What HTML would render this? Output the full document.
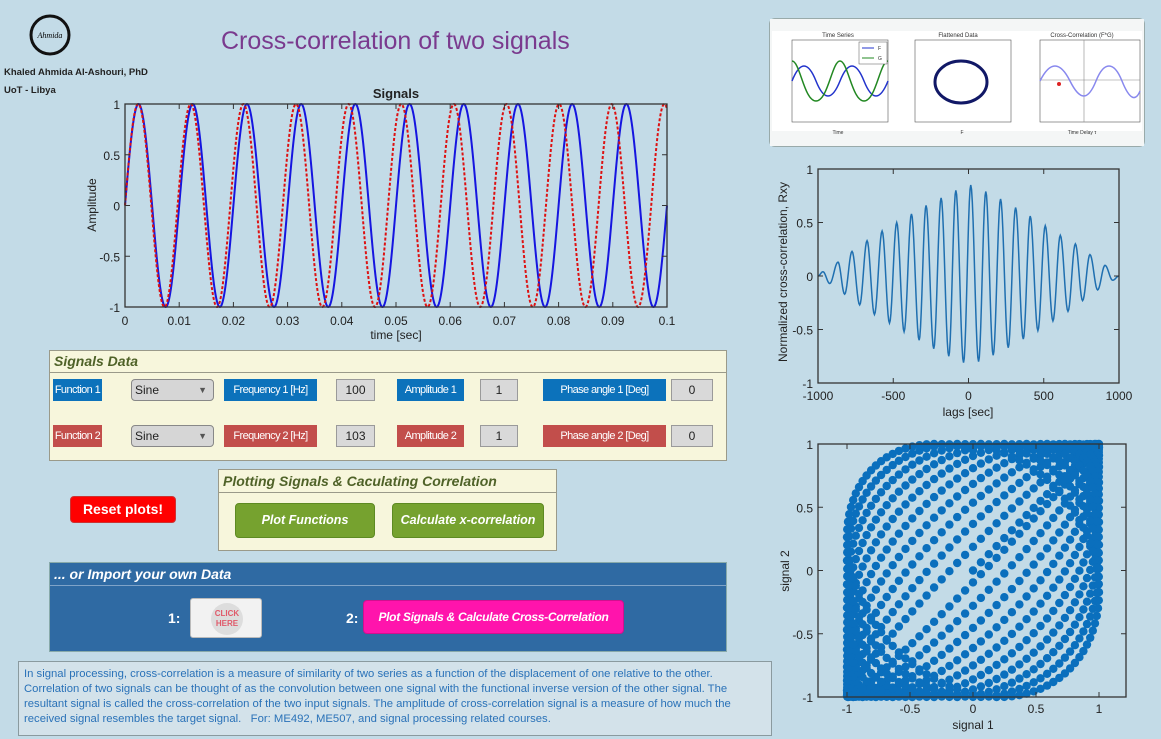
<!DOCTYPE html>
<html><head><meta charset="utf-8">
<style>
*{box-sizing:border-box;margin:0;padding:0}
body{width:1161px;height:739px;background:#c3dbe7;position:relative;overflow:hidden;font-family:"Liberation Sans",sans-serif}
.abs{position:absolute}
.lbl{position:absolute;height:22px;line-height:22px;color:#fff;font-size:11px;text-align:center;white-space:nowrap;overflow:visible;letter-spacing:-0.6px}
.b{background:#0c72bb}.r{background:#c24e4b}
.inp{position:absolute;height:22px;line-height:20px;background:#d9d9d9;border:1px solid #9a9a9a;font-size:12px;text-align:center;color:#222}
.sel{position:absolute;height:22px;line-height:20px;background:#d6d6d6;border:1px solid #888;border-radius:4px;font-size:12px;padding-left:3px;color:#222}
.sel span{position:absolute;right:6px;top:0;font-size:9px;color:#555}
.panel{position:absolute;background:#f7f6dc;border:1px solid #9a9a8a}
.ph{position:absolute;left:0;right:0;top:0;border-bottom:1px solid #9a9a8a;color:#4f6228;font-weight:bold;font-style:italic;font-size:14px;padding-left:4px;white-space:nowrap}
.gbtn{position:absolute;background:#76a22f;border:1px solid #5d8a22;border-radius:4px;color:#fff;font-style:italic;font-weight:bold;font-size:12.5px;text-align:center;line-height:32px;white-space:nowrap}
</style></head><body>

<svg class="abs" style="left:25px;top:10px" width="50" height="50"><circle cx="25" cy="25" r="19" fill="none" stroke="#111" stroke-width="3"/><text x="25" y="28" font-size="8" text-anchor="middle" font-family="Liberation Serif" font-style="italic">Ahmida</text></svg>
<div class="abs" style="left:4px;top:67px;font-size:9.5px;font-weight:bold;color:#222">Khaled Ahmida Al-Ashouri, PhD</div>
<div class="abs" style="left:4px;top:85px;font-size:9.5px;font-weight:bold;color:#222">UoT - Libya</div>
<div class="abs" style="left:221px;top:27px;font-size:25px;color:#7a3a8e">Cross-correlation of two signals</div>

<!-- thumbnail -->
<div class="abs" style="left:769px;top:18px;width:376px;height:129px;background:#f4f6f6;border:1px solid #9aa;border-radius:6px">
<svg width="374" height="127" font-family="Liberation Sans" font-size="5" fill="#333">
<rect x="0" y="0" width="374" height="127" fill="#f4f6f6"/>
<rect x="2" y="12" width="370" height="100" fill="#fff"/>
<text x="68" y="18" text-anchor="middle" font-size="6">Time Series</text>
<rect x="22" y="21" width="96" height="82" fill="none" stroke="#555" stroke-width="0.6"/>
<path d="M22,62 C30,42 38,42 46,62 S62,82 70,62 S86,42 94,62 S110,82 118,62" fill="none" stroke="#2233cc" stroke-width="1.5"/>
<path d="M22,42 C30,42 34,82 46,82 S62,42 70,42 S82,82 94,82 S110,42 118,42" fill="none" stroke="#228822" stroke-width="1.5"/>
<rect x="89" y="23" width="28" height="22" fill="#fff" stroke="#555" stroke-width="0.5"/>
<line x1="92" y1="29" x2="104" y2="29" stroke="#2233cc"/><text x="108" y="31">F</text>
<line x1="92" y1="39" x2="104" y2="39" stroke="#228822"/><text x="108" y="41">G</text>
<text x="68" y="115" text-anchor="middle">Time</text>
<text x="188" y="18" text-anchor="middle" font-size="6">Flattened Data</text>
<rect x="145" y="21" width="96" height="82" fill="none" stroke="#555" stroke-width="0.6"/>
<ellipse cx="191" cy="63" rx="26" ry="21" fill="none" stroke="#111866" stroke-width="3"/>
<text x="192" y="115" text-anchor="middle">F</text>
<text x="312" y="18" text-anchor="middle" font-size="6">Cross-Correlation (F*G)</text>
<rect x="270" y="21" width="100" height="82" fill="none" stroke="#555" stroke-width="0.6"/>
<line x1="270" y1="61" x2="370" y2="61" stroke="#888" stroke-width="0.6"/><line x1="314" y1="21" x2="314" y2="103" stroke="#888" stroke-width="0.6"/>
<path d="M270,62 C280,42 290,42 300,62 S318,82 326,62 S344,42 352,62 S366,82 370,72" fill="none" stroke="#8888ee" stroke-width="1.5"/>
<circle cx="289" cy="65" r="2" fill="#d22"/>
<text x="312" y="115" text-anchor="middle">Time Delay τ</text>
</svg></div>

<svg class="abs" id="charts" style="left:0;top:0" width="1161" height="739" font-family="Liberation Sans"></svg>

<!-- Signals Data -->
<div class="panel" style="left:49px;top:350px;width:678px;height:111px">
<div class="ph" style="height:22px;line-height:21px">Signals Data</div></div>
<div class="lbl b" style="left:53px;top:379px;width:49px">Function 1</div>
<div class="sel" style="left:131px;top:379px;width:83px">Sine<span>▼</span></div>
<div class="lbl b" style="left:224px;top:379px;width:93px">Frequency 1 [Hz]</div>
<div class="inp" style="left:336px;top:379px;width:39px">100</div>
<div class="lbl b" style="left:397px;top:379px;width:67px">Amplitude 1</div>
<div class="inp" style="left:480px;top:379px;width:38px">1</div>
<div class="lbl b" style="left:543px;top:379px;width:123px">Phase angle 1 [Deg]</div>
<div class="inp" style="left:671px;top:379px;width:42px">0</div>
<div class="lbl r" style="left:53px;top:425px;width:49px">Function 2</div>
<div class="sel" style="left:131px;top:425px;width:83px">Sine<span>▼</span></div>
<div class="lbl r" style="left:224px;top:425px;width:93px">Frequency 2 [Hz]</div>
<div class="inp" style="left:336px;top:425px;width:39px">103</div>
<div class="lbl r" style="left:397px;top:425px;width:67px">Amplitude 2</div>
<div class="inp" style="left:480px;top:425px;width:38px">1</div>
<div class="lbl r" style="left:543px;top:425px;width:123px">Phase angle 2 [Deg]</div>
<div class="inp" style="left:671px;top:425px;width:42px">0</div>

<!-- Plotting panel -->
<div class="panel" style="left:218px;top:469px;width:339px;height:82px">
<div class="ph" style="height:23px;line-height:22px">Plotting Signals &amp; Caculating Correlation</div></div>
<div class="gbtn" style="left:235px;top:503px;width:140px;height:35px">Plot Functions</div>
<div class="gbtn" style="left:392px;top:503px;width:152px;height:35px">Calculate x-correlation</div>
<div class="abs" style="left:70px;top:496px;width:106px;height:27px;background:#f00;border:1px solid #c33;border-radius:4px;color:#fff;font-weight:bold;font-size:14px;text-align:center;line-height:25px">Reset plots!</div>

<!-- Import panel -->
<div class="abs" style="left:49px;top:562px;width:678px;height:90px;background:#2f6aa3;border:1px solid #8aa">
<div class="abs" style="left:0;right:0;top:0;height:23px;border-bottom:1px solid #7fa3c8;color:#fff;font-weight:bold;font-style:italic;font-size:14px;line-height:22px;padding-left:4px">... or Import your own Data</div></div>
<div class="abs" style="left:168px;top:610px;color:#fff;font-weight:bold;font-size:14px">1:</div>
<div class="abs" style="left:190px;top:598px;width:72px;height:40px;background:#f2f2f2;border:1px solid #bbb;border-radius:3px">
<div style="position:absolute;left:20px;top:4px;width:32px;height:32px;border-radius:50%;background:#ddd;color:#e05a6a;font-size:8px;font-weight:bold;text-align:center;line-height:10px;padding-top:6px">CLICK<br>HERE</div></div>
<div class="abs" style="left:346px;top:610px;color:#fff;font-weight:bold;font-size:14px">2:</div>
<div class="abs" style="left:363px;top:600px;width:261px;height:34px;background:#ff14ac;border:1px solid #d1108f;border-radius:4px;color:#fff;font-weight:bold;font-style:italic;font-size:12px;text-align:center;line-height:32px;letter-spacing:-0.3px">Plot Signals &amp; Calculate Cross-Correlation</div>

<div class="abs" style="left:18px;top:661px;width:754px;height:75px;background:#d3e2ea;border:1px solid #8a9a9f;color:#2a72b8;font-size:11.3px;line-height:15px;padding:5px 0 0 5px;white-space:nowrap">In signal processing, cross-correlation is a measure of similarity of two series as a function of the displacement of one relative to the other.<br>Correlation of two signals can be thought of as the convolution between one signal with the functional inverse version of the other signal. The<br>resultant signal is called the cross-correlation of the two input signals. The amplitude of cross-correlation signal is a measure of how much the<br>received signal resembles the target signal.&nbsp;&nbsp; For: ME492, ME507, and signal processing related courses.</div>

<script>
// signal parameters (data)
const signalFreqs = [100, 103];
const signalAmps = [1, 1];
const signalPhases = [0, 0];
const timeTicks = [0,0.01,0.02,0.03,0.04,0.05,0.06,0.07,0.08,0.09,0.1];
const ampTicks = [1,0.5,0,-0.5,-1];
// cross-correlation extrema
const xcLags = [-1000,-967,-922,-867,-823,-774,-723,-674,-625,-574,-525,-477,-428,-379,-328,-282,-231,-182,-131,-84,-33,15,67,115,164,213,264,313,364,410,461,510,561,610,661,710,758,807,858,907,958,1000];
const xcVals = [0,0.04,-0.07,0.13,-0.17,0.23,-0.27,0.33,-0.36,0.42,-0.44,0.5,-0.52,0.58,-0.6,0.66,-0.68,0.73,-0.75,0.8,-0.81,0.85,-0.8,0.79,-0.74,0.72,-0.67,0.64,-0.59,0.56,-0.51,0.47,-0.42,0.38,-0.33,0.3,-0.23,0.2,-0.13,0.1,-0.04,0];
const lagTicks = [-1000,-500,0,500,1000];
const sampleRate = 10000;

const svg = document.getElementById('charts');
const NS = 'http://www.w3.org/2000/svg';
function mk(tag, attrs, parent){const e=document.createElementNS(NS,tag);for(const k in attrs)e.setAttribute(k,attrs[k]);(parent||svg).appendChild(e);return e;}
function txt(x,y,s,attrs,name){const t=mk('text',Object.assign({x:x,y:y,'font-size':12,fill:'#222'},attrs||{}));t.textContent=s;


return t;}
function sig(i,t){return signalAmps[i]*Math.sin(2*Math.PI*signalFreqs[i]*t+signalPhases[i]*Math.PI/180);}
function frame(L,T,R,B,name){const r=mk('rect',{x:L,y:T,width:R-L,height:B-T,fill:'none',stroke:'#333','stroke-width':1.3});


}
function tick(x1,y1,x2,y2){mk('line',{x1:x1,y1:y1,x2:x2,y2:y2,stroke:'#333','stroke-width':1});}

// ---- Signals chart
(function(){
const L=125,R=667,T=104,B=307;
const xs=t=>L+(t-0)/(0.1)*(R-L), ys=v=>T+(1-v)/2*(B-T);
const g=mk('g',{});


for(let k=0;k<2;k++){let d='';const N=2000;for(let i=0;i<=N;i++){const t=0.1*i/N;d+=(i?'L':'M')+xs(t).toFixed(2)+','+ys(sig(k,t)).toFixed(2);}
const p=mk('path',k==0?{d:d,fill:'none',stroke:'#1515e0','stroke-width':2}:{d:d,fill:'none',stroke:'#dd1111','stroke-width':2,'stroke-dasharray':'3,2'},g);

}
frame(L,T,R,B,'signals-plot-frame');
timeTicks.forEach(t=>{const x=xs(t);tick(x,B,x,B-5);tick(x,T,x,T+5);txt(x,325,String(t),{'text-anchor':'middle'},'x-tick-label');});
ampTicks.forEach(v=>{const y=ys(v);tick(L,y,L+5,y);tick(R,y,R-5,y);txt(L-5,y+5,String(v),{'text-anchor':'end'},'y-tick-label');});
txt(396,98,'Signals',{'text-anchor':'middle','font-weight':'bold','font-size':13},'signals-title');
txt(396,339,'time [sec]',{'text-anchor':'middle'},'x-axis-title');
txt(0,0,'Amplitude',{'text-anchor':'middle',transform:'translate(96,205) rotate(-90)'},'y-axis-title');
})();

// ---- Cross-correlation chart
(function(){
const L=818,R=1119,T=169,B=383;
const xs=l=>L+(l+1000)/2000*(R-L), ys=v=>T+(1-v)/2*(B-T);
let d='M'+xs(xcLags[0])+','+ys(xcVals[0]);
for(let i=1;i<xcLags.length;i++){const a=xcLags[i-1],b=xcLags[i],va=xcVals[i-1],vb=xcVals[i];for(let s=1;s<=10;s++){const f=s/10,w=(1-Math.cos(Math.PI*f))/2;d+='L'+xs(a+(b-a)*f).toFixed(2)+','+ys(va+(vb-va)*w).toFixed(2);}}
const p=mk('path',{d:d,fill:'none',stroke:'#1f6fb0','stroke-width':1.5});


frame(L,T,R,B,'xcorr-plot-frame');
lagTicks.forEach(l=>{const x=xs(l);tick(x,B,x,B-5);tick(x,T,x,T+5);txt(x,400,String(l),{'text-anchor':'middle'},'lag-tick-label');});
ampTicks.forEach(v=>{const y=ys(v);tick(L,y,L+5,y);tick(R,y,R-5,y);txt(L-5,y+5,String(v),{'text-anchor':'end'},'xcorr-y-tick-label');});
txt(968,416,'lags [sec]',{'text-anchor':'middle'},'xcorr-x-title');
txt(0,0,'Normalized cross-correlation, Rxy',{'text-anchor':'middle',transform:'translate(787,272) rotate(-90)'},'xcorr-y-title');
})();

// ---- Scatter chart
(function(){
const L=818,R=1126,T=444,B=697,cx=973,sx=126;
const xs=v=>cx+v*sx, ys=v=>T+(1-v)/2*(B-T);
const g=mk('g',{fill:'#0a6fbd'});


const N=Math.round(0.1*sampleRate);
for(let i=0;i<=N;i++){const t=i/sampleRate;const c=mk('circle',{cx:xs(sig(0,t)).toFixed(1),cy:ys(sig(1,t)).toFixed(1),r:4.2},g);}
frame(L,T,R,B,'scatter-plot-frame');
[-1,-0.5,0,0.5,1].forEach(v=>{const x=xs(v);tick(x,B,x,B-5);tick(x,T,x,T+5);txt(x,713,String(v),{'text-anchor':'middle'},'scatter-x-tick');});
ampTicks.forEach(v=>{const y=ys(v);tick(L,y,L+5,y);tick(R,y,R-5,y);txt(L-5,y+5,String(v),{'text-anchor':'end'},'scatter-y-tick');});
txt(973,729,'signal 1',{'text-anchor':'middle'},'scatter-x-title');
txt(0,0,'signal 2',{'text-anchor':'middle',transform:'translate(789,571) rotate(-90)'},'scatter-y-title');
})();
</script>
</body></html>
